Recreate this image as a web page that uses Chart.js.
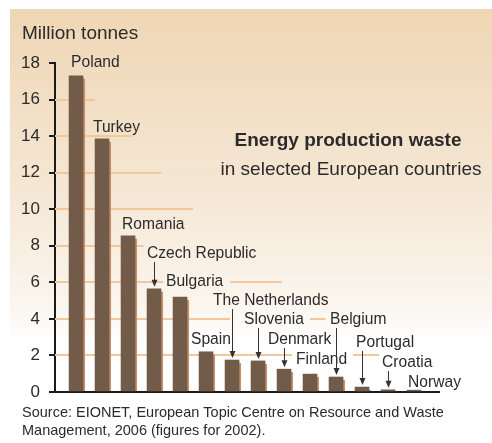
<!DOCTYPE html>
<html lang="en">
  <head>
    <meta charset="utf-8" />
    <title>Energy production waste</title>
    <style>
      * {
        margin: 0;
        padding: 0;
      }
      body {
        background: white;
      }
      .chartBox {
        width: 492px;
        height: 443px;
      }
    </style>
  </head>
  <body>
    <div class="chartBox">
      <canvas id="myChart" width="492" height="443"></canvas>
    </div>

    <script src="https://cdn.jsdelivr.net/npm/chart.js"></script>

    <script>
      // data (million tonnes, 2002)
      const countries = [
        "Poland", "Turkey", "Romania", "Czech Republic", "Bulgaria", "Spain",
        "The Netherlands", "Slovenia", "Denmark", "Finland", "Belgium",
        "Portugal", "Croatia", "Norway",
      ];
      const waste = [
        17.3, 13.85, 8.55, 5.65, 5.2, 2.2, 1.75, 1.7, 1.25, 0.98, 0.82, 0.27,
        0.12, 0.1,
      ];
      const yTicks = [0, 2, 4, 6, 8, 10, 12, 14, 16, 18];

      // where each country name sits: [x in bar index units, y in tonnes, arrow?]
      const labelSpots = [
        [-0.19, 18.05, false],
        [0.65, 14.5, false],
        [1.77, 9.19, false],
        [2.73, 7.6, true],
        [3.46, 6.07, false],
        [4.42, 2.9, false],
        [5.27, 5.03, true],
        [6.46, 3.99, true],
        [7.38, 2.9, true],
        [8.46, 1.8, false],
        [9.77, 3.99, true],
        [10.77, 2.74, true],
        [11.77, 1.64, true],
        [12.77, 0.55, false],
      ];

      // pieces of the light grid lines: [value, from index, to index]
      const gridPieces = [
        [16, -0.81, 0.73],
        [14, -0.81, 2.19],
        [12, -0.81, 3.27],
        [10, -0.81, 4.5],
        [8, -0.81, 2.6],
        [6, -0.81, 3.35],
        [6, 5.92, 7.92],
        [4, -0.81, 5.92],
        [4, 9.0, 9.6],
        [2, -0.81, 8.3],
        [2, 10.65, 11.65],
      ];

      const textColor = "#2b2b2b";
      const fontName = "'Liberation Sans', Arial, sans-serif";

      // the source lettering is a bit narrower than Arial
      function narrowText(ctx, txt, x, y, squeeze) {
        ctx.save();
        ctx.translate(x, y);
        ctx.scale(squeeze, 1);
        ctx.fillText(txt, 0, 0);
        ctx.restore();
      }

      const backdrop = {
        id: "backdrop",
        beforeDraw(chart) {
          const { ctx } = chart;
          ctx.save();
          ctx.fillStyle = "white";
          ctx.fillRect(0, 0, chart.width, chart.height);
          const g = ctx.createLinearGradient(0, 9, 0, 342);
          g.addColorStop(0, "#efd6b4");
          g.addColorStop(0.55, "#f5e7d5");
          g.addColorStop(0.9, "#fbf6ef");
          g.addColorStop(1, "#ffffff");
          ctx.fillStyle = g;
          ctx.fillRect(10, 9, chart.width - 10, 333);
          ctx.restore();
        },
        beforeDatasetsDraw(chart) {
          const {
            ctx,
            scales: { x, y },
          } = chart;
          ctx.save();
          ctx.strokeStyle = "#f2c89a";
          ctx.lineWidth = 2;
          gridPieces.forEach((p) => {
            const py = Math.round(y.getPixelForValue(p[0]));
            ctx.beginPath();
            ctx.moveTo(x.getPixelForValue(p[1]), py);
            ctx.lineTo(x.getPixelForValue(p[2]), py);
            ctx.stroke();
          });

          // shadow behind each bar
          ctx.fillStyle = "#c8916b";
          chart.getDatasetMeta(0).data.forEach((bar) => {
            const w = bar.width;
            const h = bar.base - bar.y - 3;
            if (h > 0) ctx.fillRect(bar.x - w / 2 + 2, bar.y + 3, w, h);
          });
          ctx.restore();
        },
      };

      const annotations = {
        id: "annotations",
        afterDraw(chart) {
          const {
            ctx,
            scales: { x, y },
          } = chart;
          const bars = chart.getDatasetMeta(0).data;
          ctx.save();
          ctx.fillStyle = textColor;
          ctx.textBaseline = "middle";
          ctx.textAlign = "left";
          ctx.font = "19px " + fontName;
          ctx.fillText("Million tonnes", 22, 34);

          countries.forEach((name, i) => {
            const s = labelSpots[i];
            const lx = x.getPixelForValue(s[0]);
            const ly = y.getPixelForValue(s[1]);
            ctx.fillStyle = textColor;
            ctx.font = "16.8px " + fontName;
            narrowText(ctx, name, lx, ly, 0.93);
            if (s[2]) {
              const ax = Math.round(bars[i].x) + 0.5;
              const top = ly + 9;
              const bottom = bars[i].y - 2;
              ctx.strokeStyle = "#333";
              ctx.lineWidth = 1;
              ctx.beginPath();
              ctx.moveTo(ax, top);
              ctx.lineTo(ax, bottom - 5);
              ctx.stroke();
              ctx.beginPath();
              ctx.moveTo(ax, bottom);
              ctx.lineTo(ax - 3, bottom - 7);
              ctx.lineTo(ax + 3, bottom - 7);
              ctx.closePath();
              ctx.fillStyle = "#333";
              ctx.fill();
            }
          });

          ctx.fillStyle = textColor;
          ctx.textAlign = "center";
          ctx.font = "bold 19px " + fontName;
          ctx.fillText("Energy production waste", 348, 141);
          ctx.font = "19px " + fontName;
          ctx.fillText("in selected European countries", 351, 170);

          ctx.textAlign = "left";
          ctx.font = "14.5px " + fontName;
          ctx.fillText(
            "Source: EIONET, European Topic Centre on Resource and Waste",
            22,
            413
          );
          ctx.fillText("Management, 2006 (figures for 2002).", 22, 431);
          ctx.restore();
        },
      };

      const data = {
        datasets: [
          {
            label: "Energy production waste",
            data: waste.map((v, i) => ({ x: i, y: v })),
            backgroundColor: "#735b4a",
            borderWidth: 0,
            barThickness: 14,
          },
        ],
      };

      const config = {
        type: "bar",
        data: data,
        options: {
          responsive: false,
          animation: false,
          layout: {
            padding: { left: 0, top: 63, right: 53, bottom: 51 },
          },
          plugins: {
            legend: { display: false },
            tooltip: { enabled: false },
          },
          scales: {
            x: {
              type: "linear",
              min: -0.81,
              max: 13.96,
              offset: false,
              grid: { display: false, offset: false },
              ticks: { display: false },
              border: { display: true, color: "#1a1a1a", width: 2 },
              afterFit: (s) => {
                s.height = 0;
              },
            },
            y: {
              min: 0,
              max: 18,
              afterBuildTicks: (s) => {
                s.ticks = yTicks.map((v) => ({ value: v }));
              },
              grid: {
                drawOnChartArea: false,
                drawTicks: true,
                tickLength: 6,
                color: "#1a1a1a",
                lineWidth: 2,
              },
              border: { display: true, color: "#1a1a1a", width: 2 },
              ticks: {
                color: textColor,
                padding: 9,
                font: { size: 17, family: fontName },
              },
              afterFit: (s) => {
                s.width = 55;
              },
            },
          },
        },
        plugins: [backdrop, annotations],
      };

      const myChart = new Chart(document.getElementById("myChart"), config);
    </script>
  </body>
</html>
